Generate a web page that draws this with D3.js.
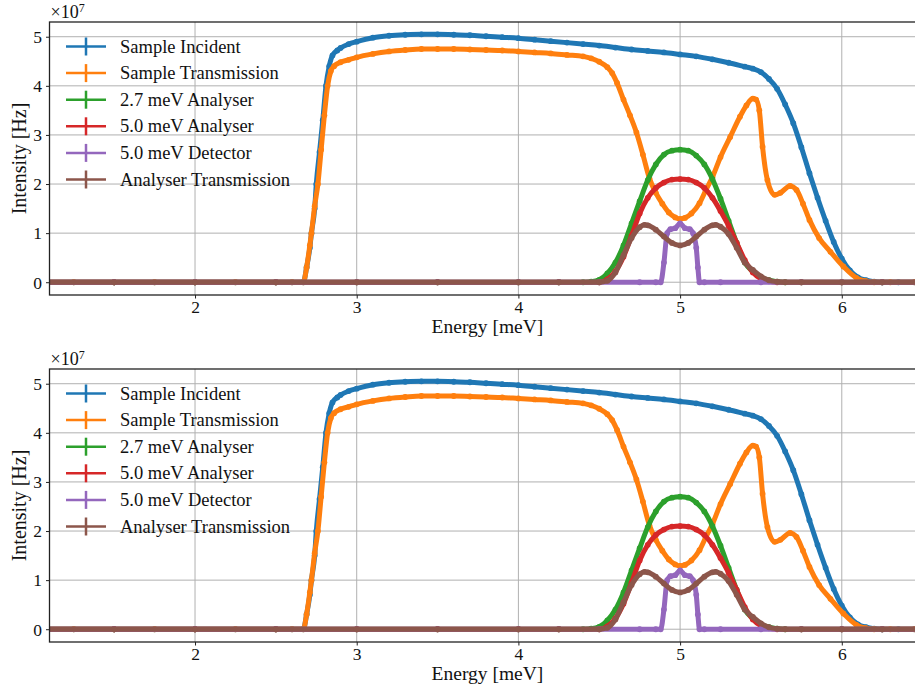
<!DOCTYPE html>
<html>
<head>
<meta charset="utf-8">
<script src="https://cdn.jsdelivr.net/npm/d3@7"></script>
<style>
  body { margin: 0; background: #fff; }
  svg { display: block; }
  text { font-family: "Liberation Serif", "DejaVu Serif", serif; fill: #111; }
</style>
</head>
<body>
<div id="chart"></div>
<script>
// ---- data (intensity in units of 1e7 Hz, energy in meV) ----
var seriesNames = ["Sample Incident", "Sample Transmission", "2.7 meV Analyser",
                   "5.0 meV Analyser", "5.0 meV Detector", "Analyser Transmission"];

var incidentE = [1.0, 1.25, 1.5, 1.75, 2.0, 2.25, 2.5, 2.6, 2.67, 2.69, 2.71, 2.72, 2.74, 2.75, 2.77, 2.79,
                 2.81, 2.83, 2.85, 2.88, 2.9, 2.95, 3.0, 3.1, 3.2, 3.3, 3.4, 3.5, 3.6, 3.7, 3.8, 3.9,
                 4.0, 4.1, 4.2, 4.3, 4.4, 4.5, 4.6, 4.7, 4.8, 4.9, 5.0, 5.1, 5.2, 5.3, 5.4, 5.45,
                 5.5, 5.55, 5.6, 5.65, 5.7, 5.75, 5.8, 5.85, 5.9, 5.95, 6.0, 6.05, 6.1, 6.15, 6.2,
                 6.25, 6.35, 6.45, 6.6];
var incidentI = [0, 0, 0, 0, 0, 0, 0, 0, 0, 0.3, 0.7, 1.0, 1.5, 2.0, 2.65, 3.3,
                 4.0, 4.4, 4.62, 4.72, 4.77, 4.85, 4.9, 4.98, 5.02, 5.04, 5.05, 5.05, 5.04, 5.03, 5.01, 4.99,
                 4.97, 4.94, 4.91, 4.88, 4.85, 4.82, 4.78, 4.74, 4.71, 4.68, 4.64, 4.6, 4.54, 4.47, 4.39, 4.35,
                 4.28, 4.14, 3.94, 3.62, 3.24, 2.75, 2.22, 1.72, 1.25, 0.82, 0.48, 0.24, 0.1, 0.04, 0.01,
                 0, 0, 0, 0];

var transE = [1.0, 1.25, 1.5, 1.75, 2.0, 2.25, 2.5, 2.6, 2.67, 2.69, 2.71, 2.72, 2.74, 2.76, 2.78, 2.80,
              2.82, 2.84, 2.86, 2.9, 2.95, 3.0, 3.1, 3.2, 3.3, 3.4, 3.5, 3.6, 3.7, 3.8, 3.9, 4.0,
              4.1, 4.2, 4.3, 4.4, 4.45, 4.5, 4.55, 4.58, 4.61, 4.65, 4.69, 4.73, 4.77, 4.81, 4.85, 4.89,
              4.93, 4.97, 5.0, 5.03, 5.07, 5.12, 5.16, 5.2, 5.25, 5.31, 5.37, 5.41, 5.45, 5.47, 5.49,
              5.51, 5.54, 5.585, 5.62, 5.68, 5.72, 5.76, 5.8, 5.86, 5.93, 6.01, 6.09, 6.15, 6.2,
              6.3, 6.45, 6.6];
var transI = [0, 0, 0, 0, 0, 0, 0, 0, 0, 0.3, 0.75, 1.0, 1.55, 2.0, 2.7, 3.4,
              4.0, 4.3, 4.4, 4.48, 4.53, 4.58, 4.65, 4.7, 4.73, 4.75, 4.75, 4.75, 4.74, 4.73, 4.72, 4.7,
              4.68, 4.66, 4.63, 4.6, 4.56, 4.49, 4.38, 4.26, 4.06, 3.72, 3.4, 3.05, 2.6, 2.12, 1.82, 1.6,
              1.42, 1.32, 1.29, 1.31, 1.4, 1.61, 1.88, 2.14, 2.55, 2.96, 3.37, 3.6, 3.74, 3.72, 3.5,
              2.76, 2.08, 1.78, 1.82, 1.96, 1.88, 1.6, 1.27, 0.9, 0.62, 0.32, 0.09, 0.02, 0,
              0, 0, 0];

var an27E = [1.0, 1.5, 2.0, 2.5, 3.0, 3.5, 4.0, 4.25, 4.4, 4.45, 4.5, 4.55, 4.6, 4.65, 4.7, 4.75,
             4.8, 4.85, 4.9, 4.95, 5.0, 5.05, 5.1, 5.15, 5.2, 5.25, 5.3, 5.35, 5.4, 5.45, 5.5,
             5.55, 5.6, 5.65, 5.75, 6.0, 6.25, 6.6];
var an27I = [0, 0, 0, 0, 0, 0, 0, 0, 0, 0.01, 0.05, 0.18, 0.4, 0.75, 1.2, 1.65,
             2.08, 2.4, 2.6, 2.68, 2.7, 2.68, 2.58, 2.4, 2.1, 1.7, 1.25, 0.8, 0.4, 0.22, 0.1,
             0.04, 0.01, 0, 0, 0, 0, 0];

var an50E = [1.0, 1.5, 2.0, 2.5, 3.0, 3.5, 4.0, 4.25, 4.5, 4.55, 4.6, 4.65, 4.7, 4.75, 4.8, 4.85,
             4.9, 4.95, 5.0, 5.05, 5.1, 5.15, 5.2, 5.25, 5.3, 5.35, 5.4, 5.45, 5.5, 5.55, 5.6,
             5.75, 6.0, 6.25, 6.6];
var an50I = [0, 0, 0, 0, 0, 0, 0, 0, 0, 0.06, 0.22, 0.52, 0.95, 1.4, 1.72, 1.92,
             2.03, 2.09, 2.1, 2.09, 2.03, 1.92, 1.72, 1.45, 1.15, 0.8, 0.45, 0.2, 0.07, 0.02, 0,
             0, 0, 0, 0];

var detE = [1.0, 1.5, 2.0, 2.5, 3.0, 3.5, 4.0, 4.25, 4.5, 4.75, 4.85, 4.88, 4.9, 4.92, 4.94, 4.97,
            5.0, 5.03, 5.06, 5.08, 5.1, 5.11, 5.12, 5.15, 5.25, 5.5, 5.75, 6.0, 6.25, 6.6];
var detI = [0, 0, 0, 0, 0, 0, 0, 0, 0, 0, 0, 0, 0.4, 1.0, 1.08, 1.1,
            1.2, 1.1, 1.08, 1.0, 0.7, 0.3, 0, 0, 0, 0, 0, 0, 0, 0];

var atransE = [1.0, 1.5, 2.0, 2.5, 3.0, 3.5, 4.0, 4.25, 4.5, 4.55, 4.6, 4.65, 4.7, 4.75, 4.78, 4.8,
               4.85, 4.9, 4.95, 5.0, 5.05, 5.1, 5.15, 5.2, 5.22, 5.25, 5.3, 5.35, 5.4, 5.45, 5.5,
               5.55, 5.6, 5.65, 5.75, 6.0, 6.25, 6.6];
var atransI = [0, 0, 0, 0, 0, 0, 0, 0, 0, 0.03, 0.2, 0.55, 0.9, 1.12, 1.17, 1.16,
               1.07, 0.93, 0.8, 0.75, 0.8, 0.93, 1.07, 1.16, 1.17, 1.13, 0.98, 0.7, 0.4, 0.25, 0.12,
               0.04, 0.01, 0, 0, 0, 0, 0];

var xTicks = [2, 3, 4, 5, 6];
var yTicks = [0, 1, 2, 3, 4, 5];
var colors = ["#1f77b4", "#ff7f0e", "#2ca02c", "#d62728", "#9467bd", "#8c564b"];

var series = [
  {name: seriesNames[0], e: incidentE, v: incidentI, color: colors[0]},
  {name: seriesNames[1], e: transE, v: transI, color: colors[1]},
  {name: seriesNames[2], e: an27E, v: an27I, color: colors[2]},
  {name: seriesNames[3], e: an50E, v: an50I, color: colors[3]},
  {name: seriesNames[4], e: detE, v: detI, color: colors[4]},
  {name: seriesNames[5], e: atransE, v: atransI, color: colors[5]}
];

// ---- layout ----
var w = 915, h = 692;
var left = 49.5, right = 919.4;
var panelTops = [22, 369];
var panelH = 273;

var svg = d3.select("#chart").append("svg")
    .attr("width", w)
    .attr("height", h);

var x = d3.scaleLinear().domain([1.1, 6.48]).range([left, right]);

panelTops.forEach(function(top, pi) {
    var bottom = top + panelH;
    var y = d3.scaleLinear().domain([-0.26, 5.30]).range([bottom, top]);
    var g = svg.append("g");

    var clipId = "clip" + pi;
    g.append("clipPath").attr("id", clipId)
      .append("rect")
      .attr("x", left).attr("y", top)
      .attr("width", right - left).attr("height", panelH);

    // grid
    g.selectAll(".gx").data(xTicks).enter().append("line")
      .attr("x1", function(d) { return x(d); })
      .attr("x2", function(d) { return x(d); })
      .attr("y1", top).attr("y2", bottom)
      .attr("stroke", "#b0b0b0").attr("stroke-width", 1);
    g.selectAll(".gy").data(yTicks).enter().append("line")
      .attr("x1", left).attr("x2", right)
      .attr("y1", function(d) { return y(d); })
      .attr("y2", function(d) { return y(d); })
      .attr("stroke", "#b0b0b0").attr("stroke-width", 1);

    // series
    var plot = g.append("g").attr("clip-path", "url(#" + clipId + ")");
    series.forEach(function(s) {
        var pts = s.e.map(function(e, i) { return [e, s.v[i]]; });
        var line = d3.line()
            .x(function(d) { return x(d[0]); })
            .y(function(d) { return y(d[1]); })
            .curve(d3.curveMonotoneX);
        plot.append("path")
          .attr("d", line(pts))
          .attr("fill", "none")
          .attr("stroke", s.color)
          .attr("stroke-width", 5)
          .attr("stroke-linejoin", "round");
        plot.selectAll(null).data(pts).enter().append("circle")
          .attr("cx", function(d) { return x(d[0]); })
          .attr("cy", function(d) { return y(d[1]); })
          .attr("r", 2.9)
          .attr("fill", s.color);
    });

    // axes
    var xAxis = d3.axisBottom(x).tickValues(xTicks).tickSize(3.5).tickPadding(2)
        .tickFormat(d3.format("d"));
    var yAxis = d3.axisLeft(y).tickValues(yTicks).tickSize(3.5).tickPadding(4)
        .tickFormat(d3.format("d"));

    var gx = g.append("g").attr("transform", "translate(0," + bottom + ")").call(xAxis);
    var gy = g.append("g").attr("transform", "translate(" + left + ",0)").call(yAxis);
    [gx, gy].forEach(function(a) {
        a.select(".domain").remove();
        a.selectAll("line").attr("stroke", "#222").attr("stroke-width", 1);
        a.selectAll("text").attr("font-size", "17.5px").attr("fill", "#111")
          .style("font-family", "'Liberation Serif', serif");
    });
    gx.selectAll("text").attr("dy", "0.71em");
    gy.selectAll("text").attr("dy", "0.33em");

    // spines
    g.append("rect")
      .attr("x", left).attr("y", top)
      .attr("width", right - left).attr("height", panelH)
      .attr("fill", "none").attr("stroke", "#222").attr("stroke-width", 1.3);

    // labels
    g.append("text")
      .attr("x", (left + right) / 2 + 3).attr("y", bottom + 38)
      .attr("text-anchor", "middle").attr("font-size", "19.5px")
      .text("Energy [meV]");
    g.append("text")
      .attr("transform", "translate(26," + (top + panelH / 2) + ") rotate(-90)")
      .attr("text-anchor", "middle").attr("font-size", "20px")
      .text("Intensity [Hz]");
    var mult = g.append("text")
      .attr("x", left + 1).attr("y", top - 4)
      .attr("font-size", "18px");
    mult.append("tspan").text("\u00d710");
    mult.append("tspan").attr("dy", -6).attr("font-size", "12px").text("7");

    // legend
    var leg = g.append("g");
    series.forEach(function(s, i) {
        var ly = top + 24.5 + i * 26.6;
        leg.append("line")
          .attr("x1", 66).attr("x2", 106).attr("y1", ly).attr("y2", ly)
          .attr("stroke", s.color).attr("stroke-width", 2.5);
        leg.append("line")
          .attr("x1", 86).attr("x2", 86).attr("y1", ly - 9).attr("y2", ly + 9)
          .attr("stroke", s.color).attr("stroke-width", 2.5);
        leg.append("text")
          .attr("x", 120).attr("y", ly + 6)
          .attr("font-size", "18.5px")
          .text(s.name);
    });
});
</script>
</body>
</html>
